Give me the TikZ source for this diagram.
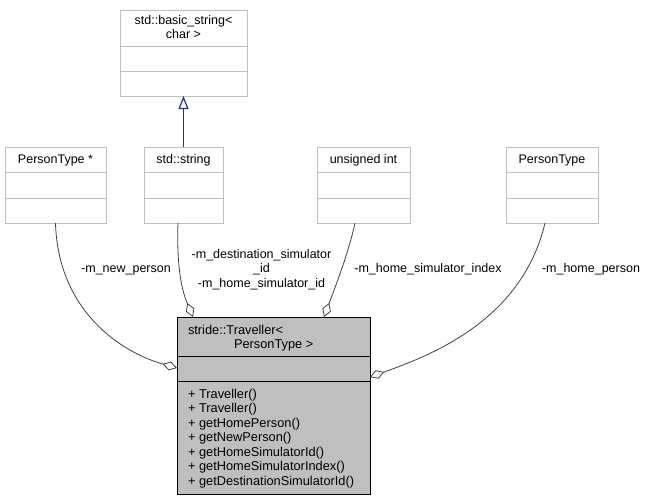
\documentclass[tikz,border=0pt]{standalone}
\usepackage{fontspec}
\setmainfont{Liberation Sans}
\usetikzlibrary{arrows.meta,calc}
\definecolor{boxgray}{HTML}{BFBFBF}
\definecolor{edgegray}{HTML}{404040}
\definecolor{inhblue}{HTML}{2E2E8A}
\begin{document}
\begin{tikzpicture}[x=1pt,y=-1pt,
  cls/.style={draw=boxgray, line width=1pt, fill=white, inner sep=0, outer sep=0, anchor=north west},
  mainbox/.style={draw=black, fill=boxgray, line width=1pt, inner sep=0, outer sep=0, anchor=north west},
  sep/.style={draw=boxgray, line width=1pt},
  mainsep/.style={draw=black, line width=1pt},
  txt/.style={inner sep=0, outer sep=0, anchor=base, font=\fontsize{12.5}{14.5}\selectfont},
  ltxt/.style={txt, anchor=base west, font=\fontsize{12.8}{14.5}\selectfont},
  agg/.style={edgegray, line width=0.8pt, -{Diamond[open,fill=white,length=15pt,width=9pt]}},
  inh/.style={inhblue, line width=1.2pt, -{Triangle[open,fill=white,length=13pt,width=10pt]}},
]
\useasboundingbox (0,0) rectangle (648,501);

% classes
\node[cls, minimum width=127pt, minimum height=86pt] (bs) at (120,10) {};
\draw[sep] ($(bs.north west)+(0,36)$) -- ($(bs.north east)+(0,36)$);
\draw[sep] ($(bs.north west)+(0,61)$) -- ($(bs.north east)+(0,61)$);
\node[txt] (bst1) at (183.5,24) {std::basic\_string<};
\node[txt] (bst2) at (183.5,38) {char >};

\node[cls, minimum width=101pt, minimum height=76pt] (ptstar) at (5,147) {};
\node[cls, minimum width=79pt, minimum height=76pt] (str) at (144,147) {};
\node[cls, minimum width=93pt, minimum height=76pt] (uint) at (317,147) {};
\node[cls, minimum width=92pt, minimum height=76pt] (pt) at (506,147) {};
\foreach \b in {ptstar,str,uint,pt}{
  \draw[sep] ($(\b.north west)+(0,25)$) -- ($(\b.north east)+(0,25)$);
  \draw[sep] ($(\b.north west)+(0,51)$) -- ($(\b.north east)+(0,51)$);
}
\node[txt] (ptstart) at ($(ptstar.north)+(0,16)$) {PersonType *};
\node[txt] (strt) at ($(str.north)+(0,16)$) {std::string};
\node[txt] (uintt) at ($(uint.north)+(0,16)$) {unsigned int};
\node[txt] (ptt) at ($(pt.north)+(0,16)$) {PersonType};

% main class
\node[mainbox, minimum width=193pt, minimum height=177pt] (main) at (177,317) {};
\draw[mainsep] ($(main.north west)+(0,39)$) -- ($(main.north east)+(0,39)$);
\draw[mainsep] ($(main.north west)+(0,64)$) -- ($(main.north east)+(0,64)$);
\node[ltxt] (mt1) at (188,334) {stride::Traveller<};
\node[ltxt] (mt2) at (234,348) {PersonType >};
\node[ltxt] (m1) at (188,398) {+ Traveller()};
\node[ltxt] (m2) at (188,412.5) {+ Traveller()};
\node[ltxt] (m3) at (188,427) {+ getHomePerson()};
\node[ltxt] (m4) at (188,441.5) {+ getNewPerson()};
\node[ltxt] (m5) at (188,456) {+ getHomeSimulatorId()};
\node[ltxt] (m6) at (188,470.5) {+ getHomeSimulatorIndex()};
\node[ltxt] (m7) at (188,485) {+ getDestinationSimulatorId()};

% inheritance
\draw[inh] (str.north) -- (bs.south);

% aggregations
\draw[agg] (ptstar.south) .. controls (58,310) and (120,352) .. ($(main.north west)+(0,51)$);
\draw[agg] ($(str.south)+(-5.5,0)$) .. controls (176,280) and (186,300) .. ($(main.north west)+(16,0)$);
\draw[agg] ($(uint.south)+(-8.5,0)$) .. controls (348,255) and (334,290) .. ($(main.north west)+(147,0)$);
\draw[agg] ($(pt.south)+(-7,0)$) .. controls (522,320) and (432,355) .. ($(main.north east)+(0,60)$);

% labels
\node[txt] (l1) at (126,272) {-m\_new\_person};
\node[txt] (l2a) at (261.5,258) {-m\_destination\_simulator};
\node[txt] (l2b) at (261.5,272) {\_id};
\node[txt] (l2c) at (261.5,287) {-m\_home\_simulator\_id};
\node[txt] (l3) at (428,272) {-m\_home\_simulator\_index};
\node[txt] (l4) at (591,272) {-m\_home\_person};
\end{tikzpicture}
\end{document}
